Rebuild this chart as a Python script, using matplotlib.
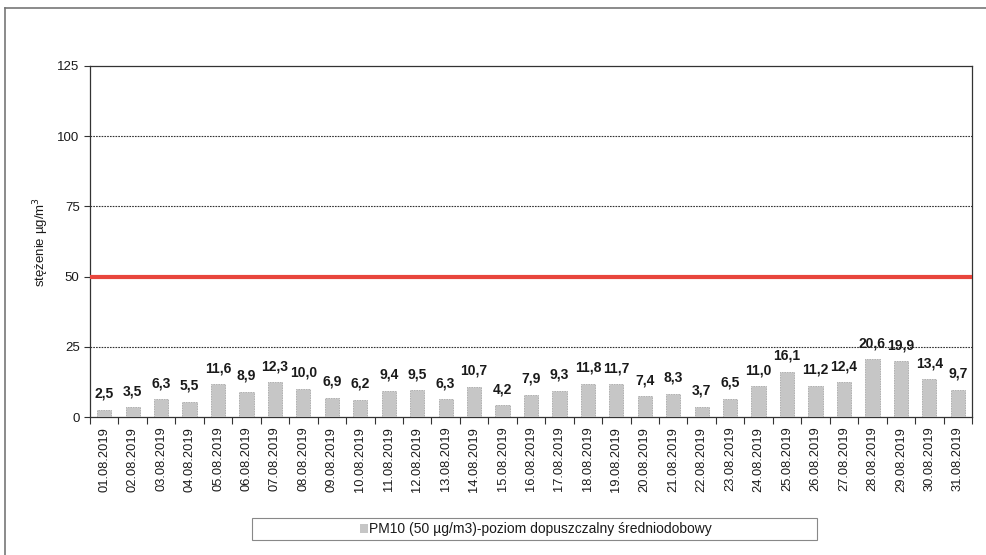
import numpy as np
import matplotlib.pyplot as plt
from matplotlib.lines import Line2D
from matplotlib.patches import Rectangle, Patch

plt.rcParams['font.family'] = ['Liberation Sans', 'DejaVu Sans']

dates = ['%02d.08.2019' % d for d in range(1, 32)]
pm10 = [2.5, 3.5, 6.3, 5.5, 11.6, 8.9, 12.3, 10.0, 6.9, 6.2, 9.4, 9.5, 6.3, 10.7, 4.2,
        7.9, 9.3, 11.8, 11.7, 7.4, 8.3, 3.7, 6.5, 11.0, 16.1, 11.2, 12.4, 20.6, 19.9, 13.4, 9.7]
limit = 50
yticks = [0, 25, 50, 75, 100, 125]

W, H = 987, 555
fig = plt.figure(figsize=(W / 100, H / 100), dpi=100)
ax = fig.add_axes([90 / W, 1 - 417 / H, 882 / W, 351 / H])

x = np.arange(len(pm10))
ax.bar(x, pm10, width=0.5, color='#c6c6c6', edgecolor='#a9a9a9', linewidth=0.6,
       linestyle=(0, (2, 1)), zorder=3)
for xi, v in zip(x, pm10):
    ax.annotate(('%.1f' % v).replace('.', ','), (xi, v), xytext=(0, 6.5),
                textcoords='offset points', ha='center', va='bottom',
                fontsize=10, fontweight='bold', color='#1a1a1a')

ax.axhline(limit, color='#e8453c', lw=3, zorder=4)

ax.set_xlim(-0.5, len(pm10) - 0.5)
ax.set_ylim(0, 125)
ax.set_yticks(yticks)
ax.set_xticks(x)
ax.set_xticklabels(dates, rotation=90, fontsize=9.3, color='#1a1a1a')
ax.set_xticks(np.arange(len(pm10) + 1) - 0.5, minor=True)
ax.tick_params(axis='x', which='major', length=0, pad=7)
ax.tick_params(axis='x', which='minor', length=5, width=0.8, direction='out', color='#333333')
ax.tick_params(axis='y', length=4, width=0.8, labelsize=9.5, labelcolor='#1a1a1a', color='#333333')
for y in [25, 75, 100]:
    ax.axhline(y, color='#333333', lw=0.8, ls=(0, (1.5, 1)), zorder=1)
for s in ax.spines.values():
    s.set_color('#333333')
    s.set_linewidth(0.9)
ax.spines['top'].set_linestyle((0, (1.5, 1)))
ax.spines['right'].set_linestyle((0, (1.5, 1)))
ax.set_ylabel('stężenie µg/m$^3$', fontsize=9.5, color='#1a1a1a')
ax.yaxis.set_label_coords(-0.044, 0.5)

# outer frame (left and top edges visible)
fig.add_artist(Line2D([5 / W, 5 / W], [0, 1 - 8 / H], color='#777777', lw=1.2))
fig.add_artist(Line2D([5 / W, 1], [1 - 8 / H, 1 - 8 / H], color='#777777', lw=1.2))

# legend box
fig.add_artist(Rectangle((252 / W, 1 - 540 / H), 565 / W, 22 / H, transform=fig.transFigure,
                         fill=False, edgecolor='#888888', lw=0.8))
fig.legend(handles=[Patch(facecolor='#c6c6c6', edgecolor='none',
                          label='PM10 (50 µg/m3)-poziom dopuszczalny średniodobowy')],
           loc='center', bbox_to_anchor=(536 / W, 1 - 529 / H), frameon=False,
           fontsize=10, handlelength=0.6, handleheight=0.6, handletextpad=0.1,
           labelcolor='#1a1a1a')

fig.savefig('out.png', dpi=100)
